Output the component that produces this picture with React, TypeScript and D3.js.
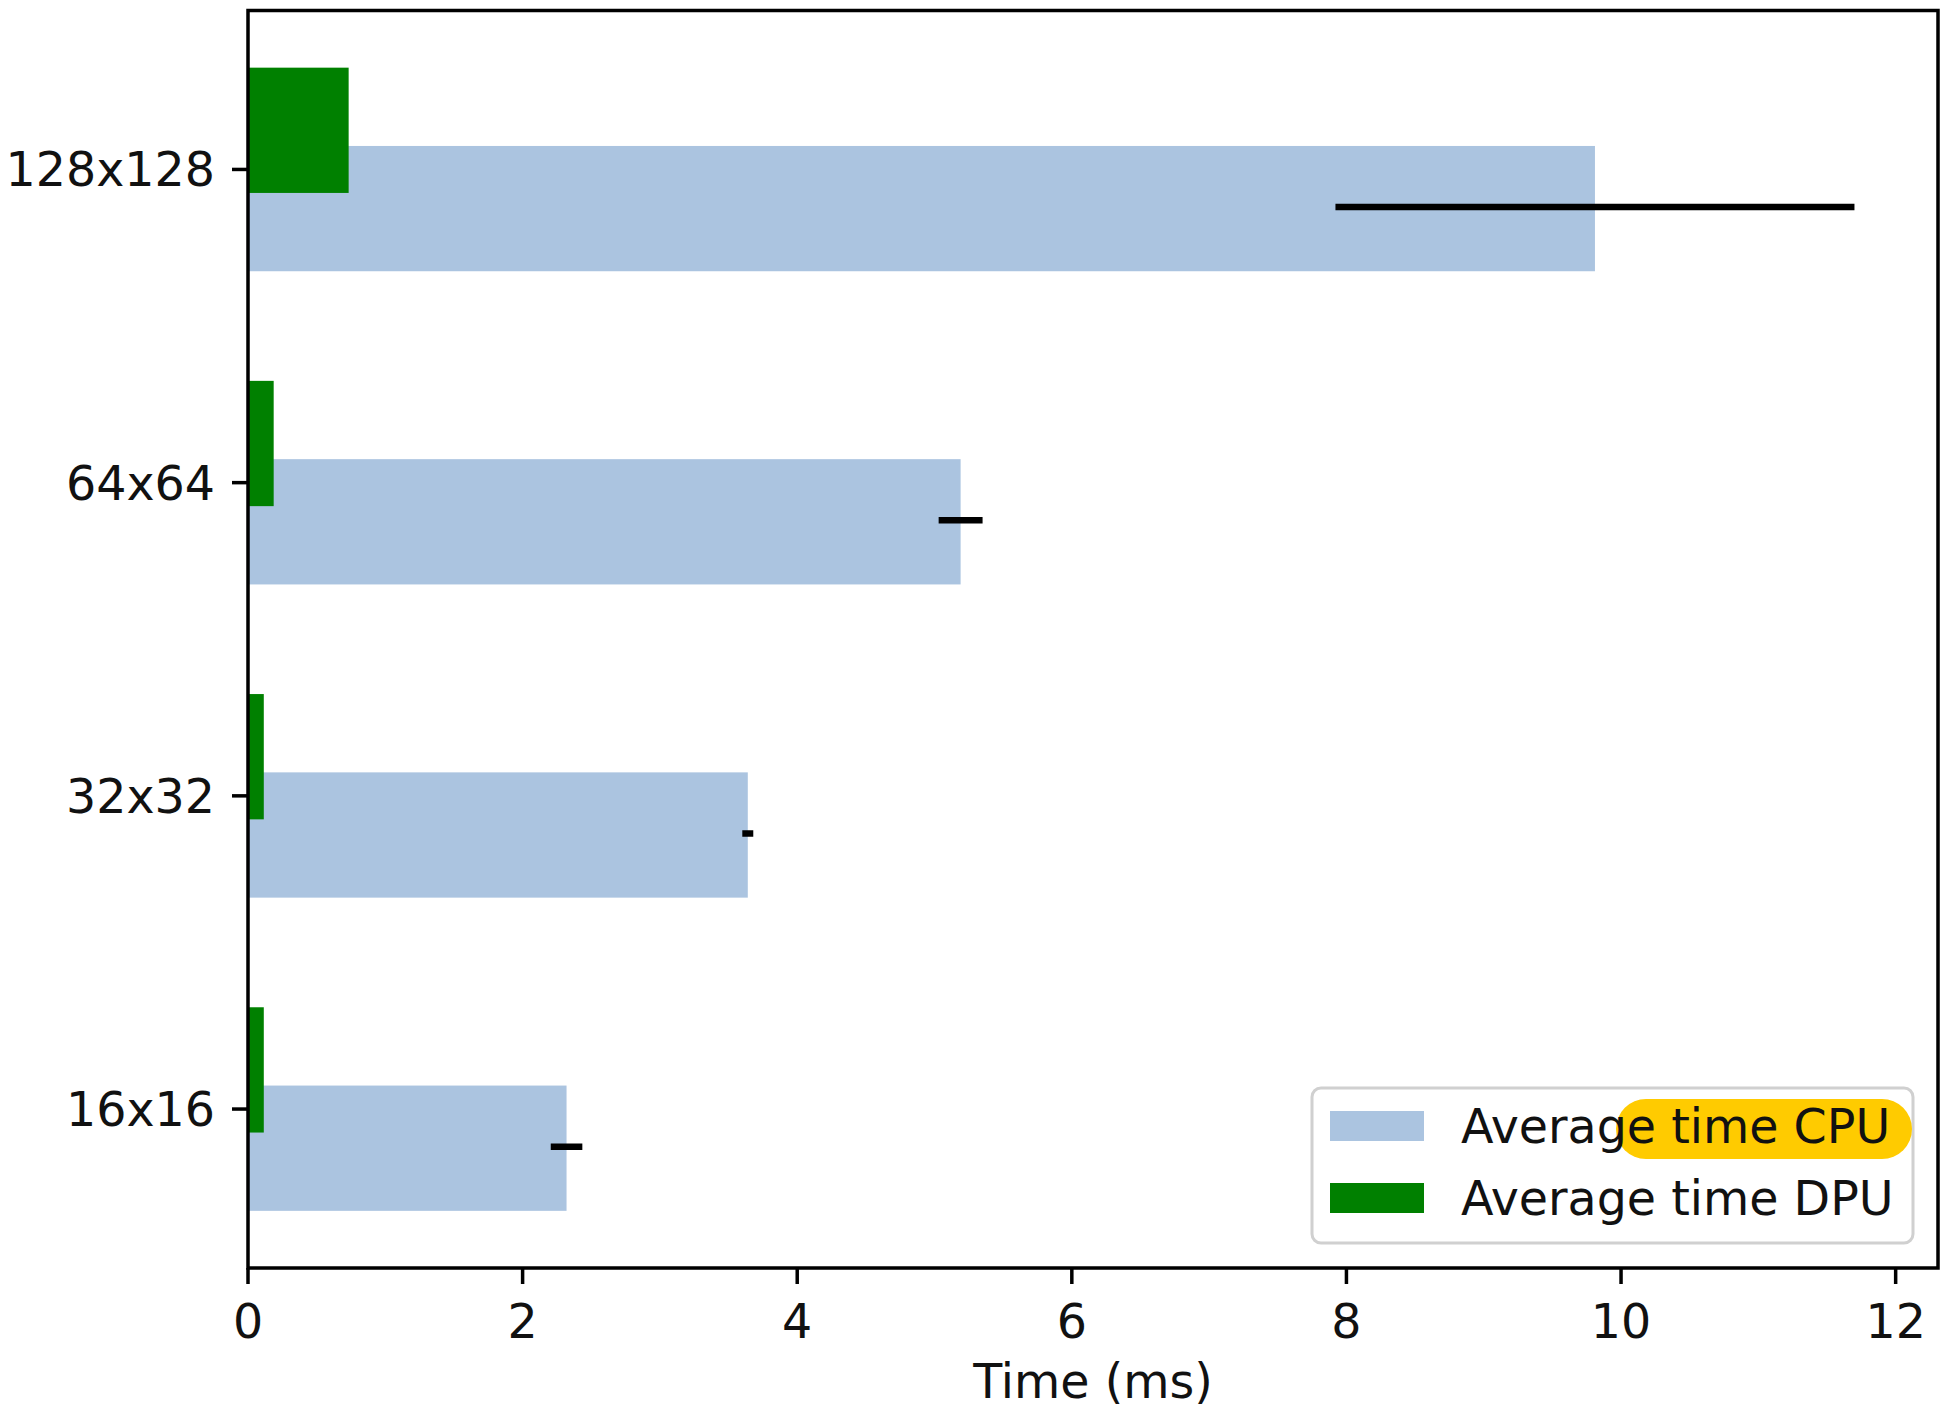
import React from 'react';
import * as d3 from 'd3';

// Matrix sizes, bottom to top
const categories = ['16x16', '32x32', '64x64', '128x128'];
const cpuTimes = [2.32, 3.64, 5.19, 9.81];
const cpuErrors = [0.115, 0.04, 0.16, 1.89];
const dpuTimes = [0.115, 0.115, 0.187, 0.733];
const xTicks = [0, 2, 4, 6, 8, 10, 12];
const legendLabels = ['Average time CPU', 'Average time DPU'];

const W = 1946;
const H = 1412;
const plot = { left: 248, right: 1938, top: 10.5, bottom: 1268 };
const FONT = '"DejaVu Sans", Verdana, sans-serif';
const FS = 47.5;
const CPU_COLOR = '#abc4e0';
const DPU_COLOR = '#008000';
const BAR_H = 0.4;
const OFFSET = 0.125;

export default function App() {
  // matplotlib-style 5% margins around the data extent
  const xMax = d3.max(cpuTimes.map((v, i) => v + cpuErrors[i]))! * 1.052;
  const x = d3.scaleLinear().domain([0, xMax]).range([plot.left, plot.right]);

  const yLo = -OFFSET - BAR_H / 2;
  const yHi = categories.length - 1 + OFFSET + BAR_H / 2;
  const pad = (yHi - yLo) * 0.05;
  const y = d3.scaleLinear().domain([yLo - pad, yHi + pad]).range([plot.bottom, plot.top]);
  const barPx = Math.abs(y(0) - y(BAR_H));

  return (
    <svg width={W} height={H} style={{ position: 'absolute', left: 0, top: 0, background: '#fff' }}
      fontFamily={FONT}>
      <rect x={0} y={0} width={W} height={H} fill="#fff" />

      {/* CPU bars, slightly below the tick */}
      {cpuTimes.map((v, i) => (
        <rect key={'cpu' + i} x={x(0)} y={y(i - OFFSET + BAR_H / 2)} width={x(v) - x(0)} height={barPx}
          fill={CPU_COLOR} />
      ))}
      {/* DPU bars, slightly above */}
      {dpuTimes.map((v, i) => (
        <rect key={'dpu' + i} x={x(0)} y={y(i + OFFSET + BAR_H / 2)} width={x(v) - x(0)} height={barPx}
          fill={DPU_COLOR} />
      ))}
      {/* error bars on CPU */}
      {cpuTimes.map((v, i) => (
        <line key={'err' + i} x1={x(v - cpuErrors[i])} x2={x(v + cpuErrors[i])}
          y1={y(i - OFFSET) - 1.5} y2={y(i - OFFSET) - 1.5} stroke="#000" strokeWidth={6.5} />
      ))}

      {/* frame */}
      <rect x={plot.left} y={plot.top} width={plot.right - plot.left} height={plot.bottom - plot.top}
        fill="none" stroke="#000" strokeWidth={3.5} />

      {/* x axis */}
      {xTicks.map(t => (
        <g key={'xt' + t}>
          <line x1={x(t)} x2={x(t)} y1={plot.bottom} y2={plot.bottom + 16} stroke="#000" strokeWidth={3.5} />
          <text x={x(t)} y={1338} textAnchor="middle" fontSize={FS} fill="#111">{t}</text>
        </g>
      ))}
      <text x={(plot.left + plot.right) / 2} y={1398} textAnchor="middle" fontSize={FS} fill="#111">Time (ms)</text>

      {/* y axis */}
      {categories.map((c, i) => (
        <g key={'yt' + c}>
          <line x1={plot.left - 16} x2={plot.left} y1={y(i)} y2={y(i)} stroke="#000" strokeWidth={3.5} />
          <text x={plot.left - 33} y={y(i) + 17} textAnchor="end" fontSize={FS} fill="#111">{c}</text>
        </g>
      ))}

      {/* legend */}
      <g>
        <rect x={1312} y={1088} width={601} height={155} rx={9} fill="#fff" fillOpacity={0.8}
          stroke="#d0d0d0" strokeWidth={3} />
        <rect x={1616} y={1099} width={296} height={60} rx={30} fill="#ffcb00" />
        {legendLabels.map((l, i) => (
          <g key={l}>
            <rect x={1330} y={1111 + i * 72} width={94} height={30} fill={i === 0 ? CPU_COLOR : DPU_COLOR} />
            <text x={1461} y={1143 + i * 72} fontSize={FS} fill="#111">{l}</text>
          </g>
        ))}
      </g>
    </svg>
  );
}
